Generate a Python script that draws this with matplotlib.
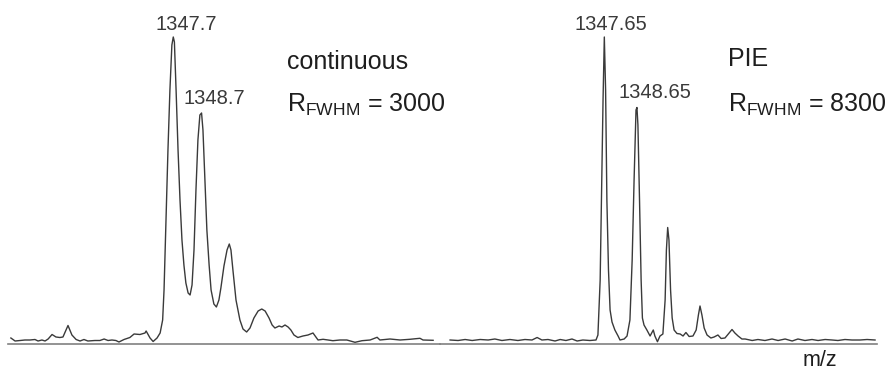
import matplotlib.pyplot as plt

plt.rcParams['font.family'] = ['Liberation Sans', 'DejaVu Sans']
plt.rcParams['mathtext.fontset'] = 'custom'
plt.rcParams['mathtext.rm'] = 'Liberation Sans'

# continuous extraction spectrum (m/z, intensity a.u.)
cont_mz = [1341.91, 1342.06, 1342.24, 1342.41, 1342.59, 1342.77, 1342.88, 1343.02, 1343.13, 1343.24,
           1343.38, 1343.52, 1343.66, 1343.77, 1343.95, 1344.09, 1344.24, 1344.38, 1344.52, 1344.66,
           1344.91, 1345.09, 1345.24, 1345.38, 1345.52, 1345.66, 1345.77, 1345.95, 1346.16, 1346.31,
           1346.52, 1346.70, 1346.74, 1346.88, 1346.99, 1347.13, 1347.24, 1347.33, 1347.38, 1347.45,
           1347.52, 1347.59, 1347.66, 1347.71, 1347.75, 1347.81, 1347.88, 1347.95, 1348.02, 1348.09,
           1348.16, 1348.24, 1348.31, 1348.38, 1348.45, 1348.52, 1348.59, 1348.66, 1348.72, 1348.77,
           1348.84, 1348.91, 1348.99, 1349.06, 1349.16, 1349.25, 1349.34, 1349.41, 1349.52, 1349.63,
           1349.71, 1349.77, 1349.84, 1349.95, 1350.09, 1350.20, 1350.33, 1350.45, 1350.59, 1350.74,
           1350.87, 1350.99, 1351.13, 1351.24, 1351.34, 1351.49, 1351.59, 1351.70, 1351.81, 1351.91,
           1352.02, 1352.16, 1352.34, 1352.52, 1352.70, 1352.88, 1353.06, 1353.24, 1353.41, 1353.66,
           1353.91, 1354.20, 1354.45, 1354.74, 1354.99, 1355.09, 1355.45, 1355.81, 1356.16, 1356.52,
           1356.63, 1356.99]
cont_int = [6, 3, 3.5, 4, 4, 4.5, 3, 4, 3, 5,
            9.5, 7, 6.5, 7, 18.5, 9, 4.5, 3, 4.5, 3,
            3.5, 3.5, 5, 3.5, 4, 3.5, 2, 4.5, 6.5, 10,
            9.5, 11, 13, 6, 2.5, 6, 11, 24, 54, 124,
            194, 254, 299, 307, 302, 254, 194, 144, 104, 79,
            61, 51, 49, 59, 94, 154, 204, 229, 231, 214,
            164, 114, 79, 54, 40, 37, 44, 56, 78, 94,
            100, 94, 74, 44, 24, 15, 12, 16, 26, 33,
            35, 33, 26, 19, 16, 18, 17, 19, 17, 14,
            9, 6.5, 8, 9, 11, 4, 4.7, 4, 3.3, 4,
            4, 1.7, 3.3, 4, 6.7, 4, 5, 4, 4.7, 5.7,
            4, 3.7]

# PIE spectrum (m/z, intensity a.u.)
pie_mz = [1342.84, 1343.09, 1343.31, 1343.53, 1343.78, 1344.03, 1344.24, 1344.46, 1344.71, 1344.96,
          1345.18, 1345.40, 1345.56, 1345.71, 1345.90, 1346.12, 1346.28, 1346.46, 1346.65, 1346.81,
          1346.99, 1347.21, 1347.40, 1347.46, 1347.53, 1347.57, 1347.62, 1347.66, 1347.70, 1347.74,
          1347.79, 1347.84, 1347.90, 1347.99, 1348.09, 1348.15, 1348.28, 1348.37, 1348.46, 1348.53,
          1348.59, 1348.65, 1348.68, 1348.71, 1348.76, 1348.81, 1348.85, 1348.90, 1348.99, 1349.09,
          1349.19, 1349.24, 1349.32, 1349.40, 1349.49, 1349.56, 1349.60, 1349.64, 1349.68, 1349.73,
          1349.78, 1349.84, 1349.93, 1350.03, 1350.12, 1350.21, 1350.31, 1350.43, 1350.53, 1350.60,
          1350.65, 1350.71, 1350.78, 1350.87, 1350.99, 1351.09, 1351.21, 1351.31, 1351.43, 1351.56,
          1351.65, 1351.74, 1351.84, 1351.96, 1352.06, 1352.28, 1352.46, 1352.68, 1352.90, 1353.09,
          1353.31, 1353.53, 1353.71, 1353.93, 1354.15, 1354.34, 1354.56, 1354.78, 1354.96, 1355.18,
          1355.40, 1355.65, 1355.87, 1356.12]
pie_int = [4, 3.5, 4.5, 3.5, 4.5, 4, 5, 3.5, 4.5, 3.5,
           4.5, 4, 6.5, 4, 4.5, 3, 4.5, 3.5, 5, 3,
           4, 3.5, 4, 9, 64, 144, 244, 307, 254, 144,
           74, 34, 22, 14, 8, 4, 5, 8, 24, 84,
           164, 234, 236.5, 219, 144, 64, 26, 19, 14, 8,
           14, 8, 2.3, 8, 10, 44, 94, 116.5, 104, 54,
           26, 14, 10.5, 10, 8, 11.5, 7.5, 8, 14, 29,
           38, 29, 16, 9, 6, 7, 9, 5.5, 6, 11,
           14.5, 11, 8, 5, 5, 3.5, 4.5, 3.5, 5, 3.5,
           5, 3, 5, 3.5, 4.5, 3.5, 4.5, 4, 3.5, 4.5,
           4, 4, 4.5, 4]

peak_labels_cont = ['1347.7', '1348.7']
peak_labels_pie = ['1347.65', '1348.65']

line_col = '#3a3a3a'
text_col = '#1e1e1e'

fig = plt.figure(figsize=(8.96, 3.71), dpi=100)
ax1 = fig.add_axes([8 / 896, 27 / 371, 432 / 896, 344 / 371])
ax2 = fig.add_axes([440 / 896, 27 / 371, 437 / 896, 344 / 371])

ax1.plot(cont_mz, cont_int, color=line_col, lw=1.0)
ax2.plot(pie_mz, pie_int, color=line_col, lw=1.0)

ax1.set_xlim(1341.807, 1357.236)
ax2.set_xlim(1342.525, 1356.181)

for ax in (ax1, ax2):
    ax.set_ylim(0, 344)
    ax.set_facecolor('none')
    for side in ('top', 'left', 'right'):
        ax.spines[side].set_visible(False)
    ax.spines['bottom'].set_color('#808080')
    ax.spines['bottom'].set_linewidth(1.2)
    ax.set_xticks([])
    ax.set_yticks([])

# peak labels
ax1.text(1348.16, 314, peak_labels_cont[0], ha='center', va='baseline', fontsize=14.5, color=line_col)
ax1.text(1349.16, 240, peak_labels_cont[1], ha='center', va='baseline', fontsize=14.5, color=line_col)
ax2.text(1347.85, 314, peak_labels_pie[0], ha='center', va='baseline', fontsize=14.5, color=line_col)
ax2.text(1349.24, 245.5, peak_labels_pie[1], ha='center', va='baseline', fontsize=14.5, color=line_col)

# mode and resolution
ax1.text(1351.77, 275, 'continuous', ha='left', va='baseline', fontsize=18, color=text_col)
ax1.text(1351.77, 232.5, r'R$_{\mathrm{FWHM}}$ = 3000', ha='left', va='baseline', fontsize=18, color=text_col)
ax2.text(1351.51, 278.5, 'PIE', ha='left', va='baseline', fontsize=18, color=text_col)
ax2.text(1351.51, 232.5, r'R$_{\mathrm{FWHM}}$ = 8300', ha='left', va='baseline', fontsize=18,
         color=text_col, clip_on=False)

fig.text(820 / 896, 5 / 371, 'm/z', ha='center', va='baseline', fontsize=15.5, color=text_col)

fig.savefig('out.png', dpi=100)
